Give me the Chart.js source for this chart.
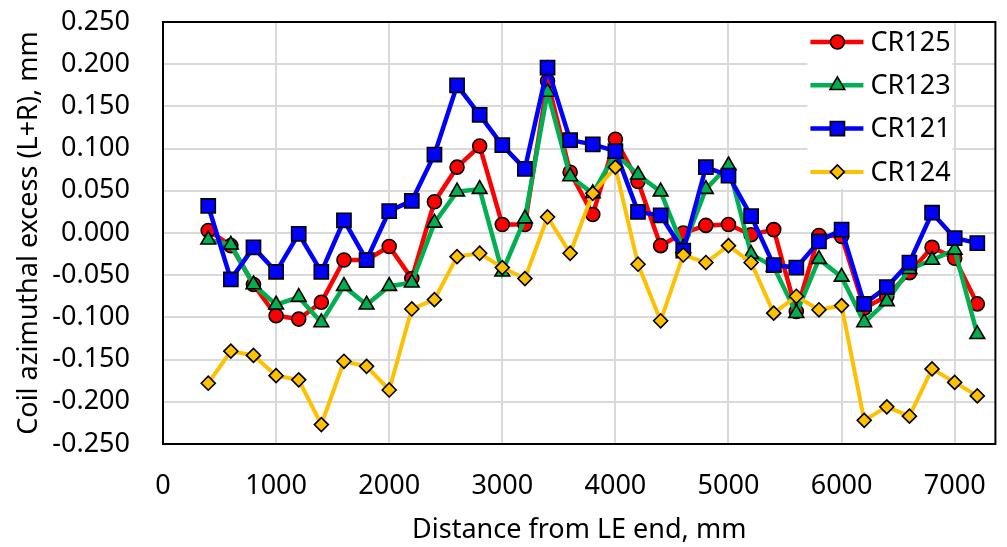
<!DOCTYPE html>
<html>
<head>
<meta charset="utf-8">
<script src="https://cdn.jsdelivr.net/npm/chart.js@4"></script>
<style>
  body { margin: 0; background: #fff; }
  canvas { display: block; }
</style>
</head>
<body>
<canvas id="coilChart" width="1007" height="547"></canvas>
<script>
// distance from LE end, mm
const distances = [400, 600, 800, 1000, 1200, 1400, 1600, 1800, 2000, 2200, 2400, 2600,
  2800, 3000, 3200, 3400, 3600, 3800, 4000, 4200, 4400, 4600, 4800, 5000, 5200, 5400,
  5600, 5800, 6000, 6200, 6400, 6600, 6800, 7000, 7200];

const cr125 = [0.003, -0.015, -0.061, -0.098, -0.102, -0.082, -0.032, -0.032, -0.016, -0.054,
  0.037, 0.078, 0.103, 0.010, 0.010, 0.180, 0.072, 0.022, 0.111, 0.061, -0.015, 0.000,
  0.009, 0.010, -0.002, 0.004, -0.093, -0.003, -0.004, -0.089, -0.075, -0.047, -0.017,
  -0.030, -0.084];
const cr123 = [-0.008, -0.014, -0.061, -0.085, -0.076, -0.106, -0.063, -0.085, -0.063, -0.059,
  0.012, 0.049, 0.052, -0.046, 0.017, 0.167, 0.067, 0.047, 0.094, 0.069, 0.049, -0.018,
  0.052, 0.080, -0.025, -0.040, -0.095, -0.031, -0.052, -0.106, -0.081, -0.043, -0.032,
  -0.020, -0.120];
const cr121 = [0.032, -0.055, -0.017, -0.046, -0.001, -0.046, 0.015, -0.032, 0.026, 0.038,
  0.093, 0.175, 0.140, 0.104, 0.076, 0.196, 0.110, 0.105, 0.097, 0.025, 0.021, -0.021,
  0.078, 0.068, 0.020, -0.038, -0.041, -0.010, 0.004, -0.084, -0.064, -0.035, 0.024,
  -0.006, -0.012];
const cr124 = [-0.178, -0.140, -0.145, -0.169, -0.174, -0.227, -0.152, -0.158, -0.186, -0.090,
  -0.079, -0.028, -0.024, -0.041, -0.054, 0.019, -0.024, 0.047, 0.078, -0.037, -0.104, -0.026,
  -0.035, -0.015, -0.035, -0.095, -0.075, -0.091, -0.086, -0.222, -0.206, -0.217, -0.161,
  -0.177, -0.193];

const xTicks = [0, 1000, 2000, 3000, 4000, 5000, 6000, 7000];

const FONT = '"Noto Sans", "Open Sans", sans-serif';
const FONT_SIZE = 27;

function toPoints(values) {
  return distances.map((d, i) => ({ x: d, y: values[i] }));
}

function series(label, values, color, style, radius, width, order) {
  return {
    label: label,
    data: toPoints(values),
    borderColor: color,
    backgroundColor: color,
    borderWidth: width,
    pointStyle: style,
    pointRadius: radius,
    pointHoverRadius: radius,
    pointBackgroundColor: color,
    pointBorderColor: '#000',
    pointBorderWidth: 1.6,
    tension: 0,
    fill: false,
    order: order
  };
}

// no extra room for edge labels, the plot box is fixed
function noPad(axis) {
  axis.paddingTop = 0;
  axis.paddingBottom = 0;
  axis.paddingLeft = 0;
  axis.paddingRight = 0;
}

// legend inside the plot, top right, on a white box
const innerLegend = {
  id: 'innerLegend',
  afterDraw(chart) {
    const ctx = chart.ctx;
    const area = chart.chartArea;
    const boxL = area.right - 188, boxT = area.top + 1;
    ctx.save();
    ctx.fillStyle = '#fff';
    ctx.fillRect(boxL, boxT, 145, 166);
    ctx.font = FONT_SIZE + 'px ' + FONT;
    ctx.textBaseline = 'middle';
    ctx.textAlign = 'left';
    chart.data.datasets.forEach((ds, i) => {
      const y = area.top + 20 + i * 43.3;
      const x0 = boxL + 3;
      ctx.strokeStyle = ds.borderColor;
      ctx.lineWidth = ds.borderWidth;
      ctx.beginPath();
      ctx.moveTo(x0, y);
      ctx.lineTo(x0 + 53, y);
      ctx.stroke();
      ctx.fillStyle = ds.pointBackgroundColor;
      ctx.strokeStyle = '#000';
      ctx.lineWidth = 1.6;
      Chart.helpers.drawPoint(ctx, {
        pointStyle: ds.pointStyle, radius: ds.pointRadius, rotation: 0, borderWidth: 1.6
      }, x0 + 27, y);
      ctx.fillStyle = '#000';
      ctx.fillText(ds.label, x0 + 60, y + 1);
    });
    // plot frame
    ctx.strokeStyle = '#000';
    ctx.lineWidth = 2;
    ctx.strokeRect(area.left, area.top, area.right - area.left, area.bottom - area.top);
    ctx.restore();
  }
};

const ctx = document.getElementById('coilChart').getContext('2d');
new Chart(ctx, {
  type: 'line',
  data: {
    datasets: [
      series('CR125', cr125, '#FF0000', 'circle', 7, 4.5, 4),
      series('CR123', cr123, '#00B050', 'triangle', 8.5, 4.5, 3),
      series('CR121', cr121, '#0000FF', 'rect', 10, 4.5, 2),
      series('CR124', cr124, '#FFC000', 'rectRot', 7, 4, 1)
    ]
  },
  options: {
    responsive: false,
    animation: false,
    layout: { padding: { top: 22, right: 2, left: 0, bottom: 0 } },
    scales: {
      x: {
        type: 'linear',
        min: 0,
        max: 7360,
        afterBuildTicks: axis => { axis.ticks = xTicks.map(v => ({ value: v })); },
        afterFit: axis => { axis.height = 103; noPad(axis); },
        grid: { color: '#D9D9D9', lineWidth: 2, drawTicks: false },
        border: { display: false },
        ticks: {
          padding: 26,
          color: '#000',
          font: { family: FONT, size: FONT_SIZE },
          maxRotation: 0,
          callback: v => String(v)
        },
        title: {
          display: true,
          text: 'Distance from LE end, mm',
          color: '#000',
          font: { family: FONT, size: FONT_SIZE },
          padding: { top: 0, bottom: 0 }
        }
      },
      y: {
        min: -0.25,
        max: 0.25,
        afterFit: axis => { axis.width = 163; noPad(axis); },
        grid: { color: '#D9D9D9', lineWidth: 2, drawTicks: false },
        border: { display: false },
        ticks: {
          stepSize: 0.05,
          padding: 33,
          color: '#000',
          font: { family: FONT, size: FONT_SIZE },
          callback: v => v.toFixed(3)
        },
        title: {
          display: true,
          text: 'Coil azimuthal excess (L+R), mm',
          color: '#000',
          font: { family: FONT, size: FONT_SIZE },
          padding: { top: 13, bottom: 0 }
        }
      }
    },
    plugins: {
      legend: { display: false },
      tooltip: { enabled: false }
    }
  },
  plugins: [innerLegend]
});
</script>
</body>
</html>
